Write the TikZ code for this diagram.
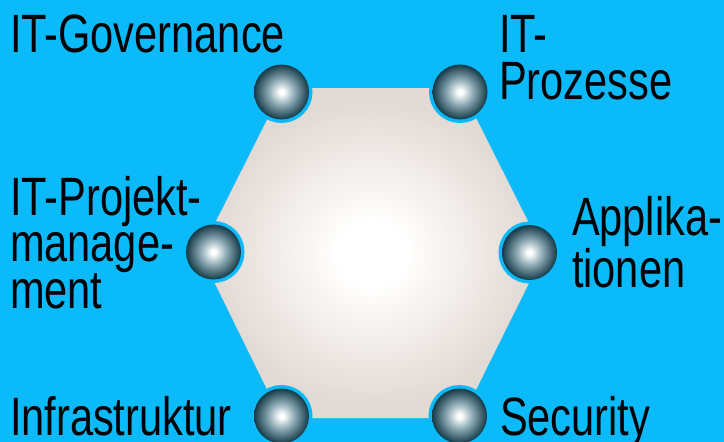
\documentclass[tikz,border=0pt]{standalone}
\usepackage{fontspec}
\setmainfont{Liberation Sans}[FakeStretch=0.77]

\definecolor{bgcyan}{RGB}{10,186,250}
\definecolor{hexedge}{RGB}{226,218,212}
\definecolor{ballmid}{RGB}{138,168,178}
\definecolor{balldark}{RGB}{20,58,72}

% soft light centre fading to warm grey towards the hexagon edges
\pgfdeclareradialshading{hexshade}{\pgfpoint{0bp}{0bp}}{%
  color(0bp)=(white); color(5bp)=(white); color(23bp)=(hexedge); color(50bp)=(hexedge)}
% glossy steel-blue ball
\pgfdeclareradialshading{ballshade}{\pgfpoint{0bp}{0bp}}{%
  color(0bp)=(white); color(2bp)=(white); color(12bp)=(ballmid); color(25bp)=(balldark); color(50bp)=(balldark)}

\tikzset{
  ball/.style={circle, minimum size=55pt, inner sep=0pt, outer sep=0pt,
    preaction={draw=bgcyan, line width=7pt},
    shade, shading=ballshade},
  label/.style={anchor=base west, inner sep=0pt, outer sep=0pt, align=left,
    text=black, font=\fontsize{54pt}{46.5pt}\selectfont},
}

\begin{document}
\begin{tikzpicture}[x=1pt, y=-1pt]
  % page area and background
  \fill[bgcyan] (0,0) rectangle (724,442);
  \useasboundingbox (0,0) rectangle (724,442);

  % central hexagon
  \shade[shading=hexshade]
    (283,88) -- (461,88) -- (544,253) -- (462,418) -- (281,418) -- (200,253) -- cycle;

  % balls at the corners
  \node[ball] (tl) at (281.5,92) {};
  \node[ball] (tr) at (460,92) {};
  \node[ball] (ml) at (213.5,252) {};
  \node[ball] (mr) at (529.5,252.5) {};
  \node[ball] (bl) at (281.5,416) {};
  \node[ball] (br) at (459.5,416) {};

  % labels (multi-line labels are placed by the baseline of their last line)
  \node[label] (gov)   at (10,52)   {IT-Governance};
  \node[label] (proz)  at (499,99)  {IT-\\Prozesse};
  \node[label] (proj)  at (10,308)  {IT-Projekt-\\manage-\\ment};
  \node[label] (appl)  at (572,287) {Applika-\\tionen};
  \node[label] (infra) at (10,435)  {Infrastruktur};
  \node[label] (sec)   at (500,435) {Security};
\end{tikzpicture}
\end{document}
